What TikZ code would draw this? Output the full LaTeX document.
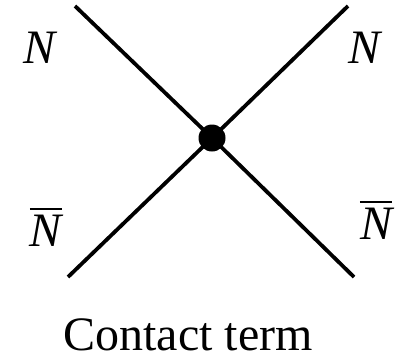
\documentclass[tikz,border=0pt]{standalone}
\usepackage{fontspec}
\setmainfont{Liberation Serif}
\begin{document}
\begin{tikzpicture}[x=1pt,y=-1pt,
  leg/.style={line width=3.8pt},
  barline/.style={line width=1.8pt},
  lbl/.style={inner sep=0pt,font=\fontsize{48}{50}\selectfont\itshape},
  captxt/.style={inner sep=0pt,font=\fontsize{48}{52}\selectfont}]
\useasboundingbox (0,0) rectangle (419,360);
\node[circle,fill=black,minimum size=27pt,inner sep=0pt] (v) at (212,138) {};
\coordinate (tl) at (75,6);
\coordinate (br) at (354,277);
\coordinate (tr) at (348,6);
\coordinate (bl) at (68,277);
\draw[leg] (tl) -- (v.center) -- (br);
\draw[leg] (tr) -- (v.center) -- (bl);
\node[lbl] (n1) at (40,48) {N};
\node[lbl] (n2) at (364,48) {N};
\node[lbl] (nb1) at (46,231) {N};
\node[lbl] (nb2) at (376,224) {N};
\draw[barline] ([yshift=6pt]nb1.north west) -- ([yshift=6pt]nb1.north east);
\draw[barline] ([yshift=6pt]nb2.north west) -- ([yshift=6pt]nb2.north east);
\node[captxt] (c) at (188,335) {Contact term};
\end{tikzpicture}
\end{document}
